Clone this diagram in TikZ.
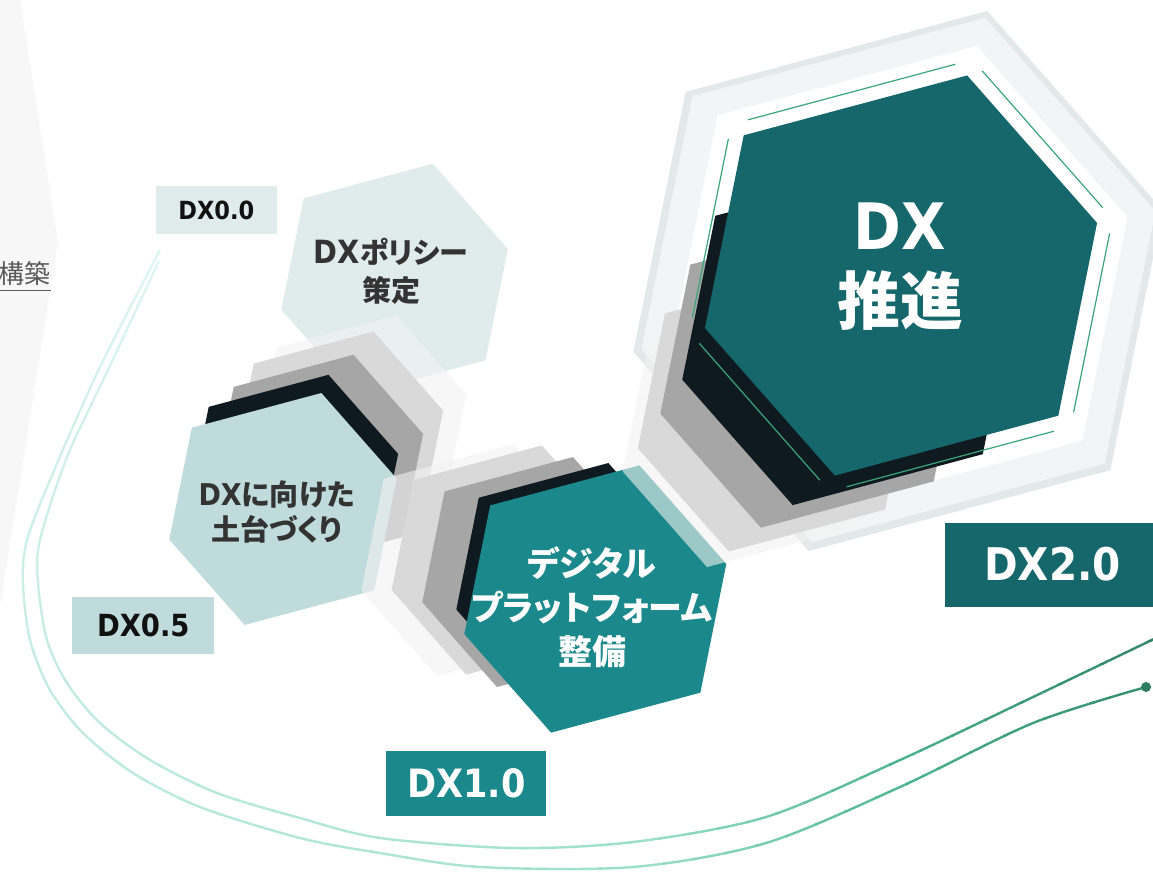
\documentclass[tikz,border=0pt]{standalone}
\usepackage{fontspec}
\usetikzlibrary{calc}
\newfontfamily\jpf{Noto Sans CJK JP}[RawFeature=+palt]
\newfontfamily\latf{DejaVu Sans}[FakeStretch=0.9]
\definecolor{leftbg}{HTML}{F7F7F7}
\definecolor{kouc}{HTML}{5A5A5A}
\definecolor{policyc}{HTML}{E0ECEC}
\definecolor{basec}{HTML}{C0DBDB}
\definecolor{platc}{HTML}{1B898B}
\definecolor{promoc}{HTML}{15676B}
\definecolor{shadowk}{HTML}{0F1A20}
\definecolor{shadowg}{HTML}{A6A6A6}
\definecolor{shadowl}{HTML}{D9D9D9}
\definecolor{shadoww}{HTML}{F2F2F2}
\definecolor{framec}{HTML}{E3E8E8}
\definecolor{bandc}{HTML}{F2F5F5}
\definecolor{lineg}{HTML}{3AA57A}
\definecolor{dotc}{HTML}{2E7D5E}
\definecolor{textc}{HTML}{333333}
\definecolor{labelk}{HTML}{111111}
\definecolor{gA}{HTML}{E4F6F5}
\definecolor{gB}{HTML}{9ADFC8}
\definecolor{gC}{HTML}{4BB38C}
\definecolor{gD}{HTML}{2A785A}
\newcommand{\DX}[1]{{\latf\fontsize{#1}{#1}\selectfont DX}}
\newcommand{\stagecurves}{%
  \draw[segc,line width=2.4pt] plot[smooth] coordinates {(159,261) (108,370) (67,457) (40,540) (38,583) (47,640) (67,683) (100,723) (150,760) (217,793) (300,818) (380,838) (513,848) (633,842) (766,817) (900,760) (1033,697) (1156,638)};
  \draw[segc,line width=2.4pt] plot[smooth] coordinates {(160,250) (100,367) (53,473) (27,540) (23,583) (30,640) (50,690) (83,733) (133,773) (200,807) (300,838) (380,853) (480,867) (633,867) (766,843) (900,787) (1033,723) (dotpos)};}
\tikzset{
  hexa/.pic={\fill[pic actions,rotate=15,scale=#1] (0:1) -- (56.7:1.038) -- (123.3:1.038) -- (180:1) -- (236.7:1.038) -- (303.3:1.038) -- cycle;},
  hexlines/.pic={\foreach \pa/\pr/\qa/\qr in {0/1/56.7/1.038,56.7/1.038/123.3/1.038,123.3/1.038/180/1,180/1/236.7/1.038,236.7/1.038/303.3/1.038,303.3/1.038/360/1}
    \draw[pic actions,rotate=15,scale=#1] ($(\pa:\pr)!0.07!(\qa:\qr)$) -- ($(\pa:\pr)!0.93!(\qa:\qr)$);},
  hextext/.style args={#1/#2}{align=center,inner sep=0pt,font=\jpf\bfseries\fontsize{#1}{#2}\selectfont},
  stagebox/.style={inner sep=0pt,font=\latf\bfseries\fontsize{#1}{#1}\selectfont}
}
\begin{document}
\begin{tikzpicture}[x=1pt,y=-1pt]
  \fill[white] (0,0) rectangle (1153,871);
  \useasboundingbox (0,0) rectangle (1153,871);
  \fill[leftbg] (0,0) -- (20,0) -- (58,242) -- (0,606) -- cycle;
  \node[font=\jpf\fontsize{26}{26}\selectfont,text=kouc,anchor=east,inner sep=0pt] (kouchiku) at (51,274) {構築};
  \draw[kouc,line width=0.9pt] ([yshift=-4pt]kouchiku.south west) -- ([yshift=-4pt]kouchiku.south east);
  \coordinate (dotpos) at (1146,687);
  \foreach \w in {150,154,...,342}{
    \ifdim\w pt<275pt \pgfmathsetmacro\p{(\w-150)/1.25}\colorlet{segc}{gB!\p!gA}%
    \else\ifdim\w pt<310pt \pgfmathsetmacro\p{(\w-275)/0.35}\colorlet{segc}{gC!\p!gB}%
    \else\pgfmathsetmacro\p{min((\w-310)/0.35,100)}\colorlet{segc}{gD!\p!gC}\fi\fi
    \begin{scope}
      \clip (600,420) -- ({600+3000*cos(\w)},{420-3000*sin(\w)}) -- ({600+3000*cos(\w+4.3)},{420-3000*sin(\w+4.3)}) -- cycle;
      \stagecurves
    \end{scope}
  }
  \node[circle,fill=dotc,inner sep=0pt,minimum size=10pt] (dot) at (dotpos) {};

  \pic[fill=policyc] at (394.6,279.3) {hexa=117.3};

  \foreach \c/\o/\x/\y in {shadoww/.6/361/422.7,shadowl/1/338/438.7,shadowg/1/318/462,shadowk/1/293/482}
    \pic[fill=\c,fill opacity=\o] at (\x,\y) {hexa=108.8};
  \pic[fill=basec] at (283,509) {hexa=117.7};

  \foreach \c/\o/\x/\y/\r in {shadoww/.6/475/560/117.7,shadowl/1/504/560/116.3,shadowg/1/535/572/116.7,shadowk/1/570/579/117.7}
    \pic[fill=\c,fill opacity=\o] at (\x,\y) {hexa=\r};
  \pic[fill=platc] at (595.3,599) {hexa=135.6};

  \pic[fill=framec] at (898,281) {hexa=274};
  \pic[fill=bandc] at (898.5,280) {hexa=266};
  \pic[fill=white] at (900,278) {hexa=235.5};
  \foreach \c/\o/\x/\y/\r in {shadoww/.6/750/437/132,shadowl/1/775/411.5/142,shadowg/1/812/373/157,shadowk/1/849/335/172.6}
    \pic[fill=\c,fill opacity=\o] at (\x,\y) {hexa=\r};
  \pic[fill=promoc] at (901,275.5) {hexa=203};
  \pic[draw=lineg,line width=1.2pt] at (901,275.5) {hexlines=219};

  \node[hextext=29/38,text=textc] (policy) at (391,271) {\DX{32}ポリシー\\策定};
  \node[hextext=29/35,text=textc] (base) at (276.5,511.5) {\DX{30}に向けた\\土台づくり};
  \node[hextext=34/44,text=white] (platform) at (592,607) {デジタル\\プラットフォーム\\整備};
  \node[hextext=63/75,text=white] (promo) at (900,267) {\DX{64}\\推進};

  \node[stagebox=25,fill=policyc,text=labelk,minimum width=121pt,minimum height=48pt] (dx00) at (216.3,210.2) {DX0.0};
  \node[stagebox=30.5,fill=basec,text=labelk,minimum width=142pt,minimum height=57pt] (dx05) at (143.3,625.1) {DX0.5};
  \node[stagebox=39,fill=platc,text=white,minimum width=160pt,minimum height=65pt] (dx10) at (466.4,783.3) {DX1.0};
  \node[stagebox=45,fill=promoc,text=white,minimum width=215pt,minimum height=84pt] (dx20) at (1052.5,564.5) {DX2.0};
\end{tikzpicture}
\end{document}
